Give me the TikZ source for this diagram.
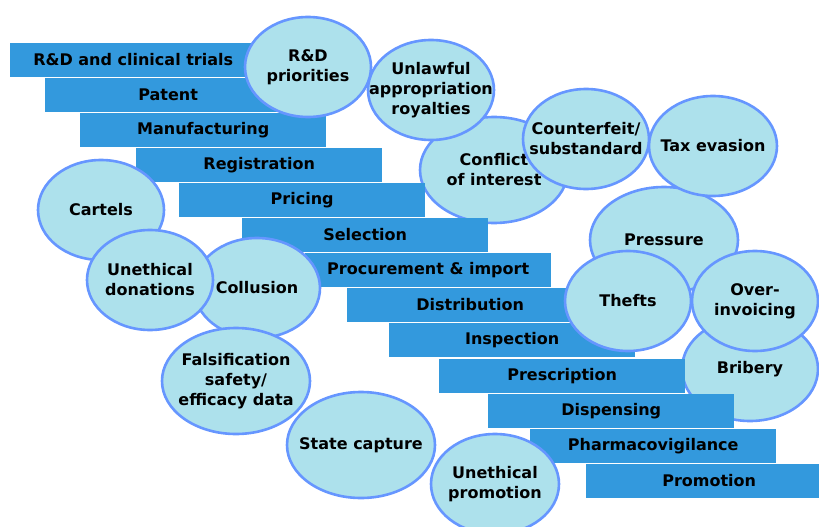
\documentclass[tikz,border=0pt]{standalone}
\usepackage{fontspec}
\setmainfont{DejaVu Sans}
\usetikzlibrary{positioning,shapes.geometric}
\definecolor{stageblue}{RGB}{51,153,221}
\definecolor{riskfill}{RGB}{173,225,236}
\definecolor{riskline}{RGB}{102,150,255}
\tikzset{
	pipeline/.style={x=1pt,y=-1pt,font=\bfseries\fontsize{16}{20}\selectfont},
	stage/.style={rectangle,fill=stageblue,anchor=north west,inner sep=0pt,
		minimum width=246pt,minimum height=33.5pt},
	risk/.style={ellipse,draw=riskline,fill=riskfill,line width=2.6pt,
		inner xsep=-20pt,inner ysep=0pt,align=center,minimum width=126pt,minimum height=100pt},
	bigrisk/.style={risk,minimum width=148pt,minimum height=106pt}
}

\begin{document}
\begin{tikzpicture}[pipeline]
	\useasboundingbox (0,0) rectangle (819,527);
	\clip (0,0) rectangle (819,527);
	
	% ellipses lying under the stages
	\node[bigrisk] (conflict) at (494,170) {Conflict\\of interest};
	\node[risk,minimum width=136pt,minimum height=104pt] (bribery) at (750,369) {Bribery};
	
	% the stages
	\node[stage] (rd) at (10,43) {R\&D and clinical trials};
	\node[stage] (patent) at (45,78) {Patent};
	\node[stage] (manuf) at (80,113) {Manufacturing};
	\node[stage] (regis) at (136,148) {Registration};
	\node[stage] (pricing) at (179,183) {Pricing};
	\node[stage] (select) at (242,218) {Selection};
	\node[stage] (procure) at (305,253) {Procurement \& import};
	\node[stage] (distrib) at (347,288) {Distribution};
	\node[stage] (inspect) at (389,323) {Inspection};
	\node[stage] (prescr) at (439,359) {Prescription};
	\node[stage] (dispens) at (488,394) {Dispensing};
	\node[stage] (pharmaco) at (530,429) {Pharmacovigilance};
	\node[stage] (promo) at (586,464) {Promotion};
	
	% risks on top
	\node[risk] (unlawful) at (431,90) {Unlawful\\appropriation\\royalties};
	\node[risk] (rdprio) at (308,67) {R\&D\\priorities};
	\node[risk] (counterfeit) at (586,139) {Counterfeit/\\substandard};
	\node[bigrisk] (pressure) at (664,240) {Pressure};
	\node[risk,minimum width=128pt] (taxev) at (713,146) {Tax evasion};
	\node[risk] (thefts) at (628,301) {Thefts};
	\node[risk] (overinv) at (755,301) {Over-\\invoicing};
	\node[risk] (cartels) at (101,210) {Cartels};
	\node[risk] (collusion) at (257,288) {Collusion};
	\node[risk] (donations) at (150,280) {Unethical\\donations};
	\node[bigrisk] (falsif) at (236,381) {Falsification\\safety/\\efficacy data};
	\node[bigrisk] (capture) at (361,445) {State capture};
	\node[risk,minimum width=128pt] (unethpromo) at (495,484) {Unethical\\promotion};
\end{tikzpicture}
\end{document}
